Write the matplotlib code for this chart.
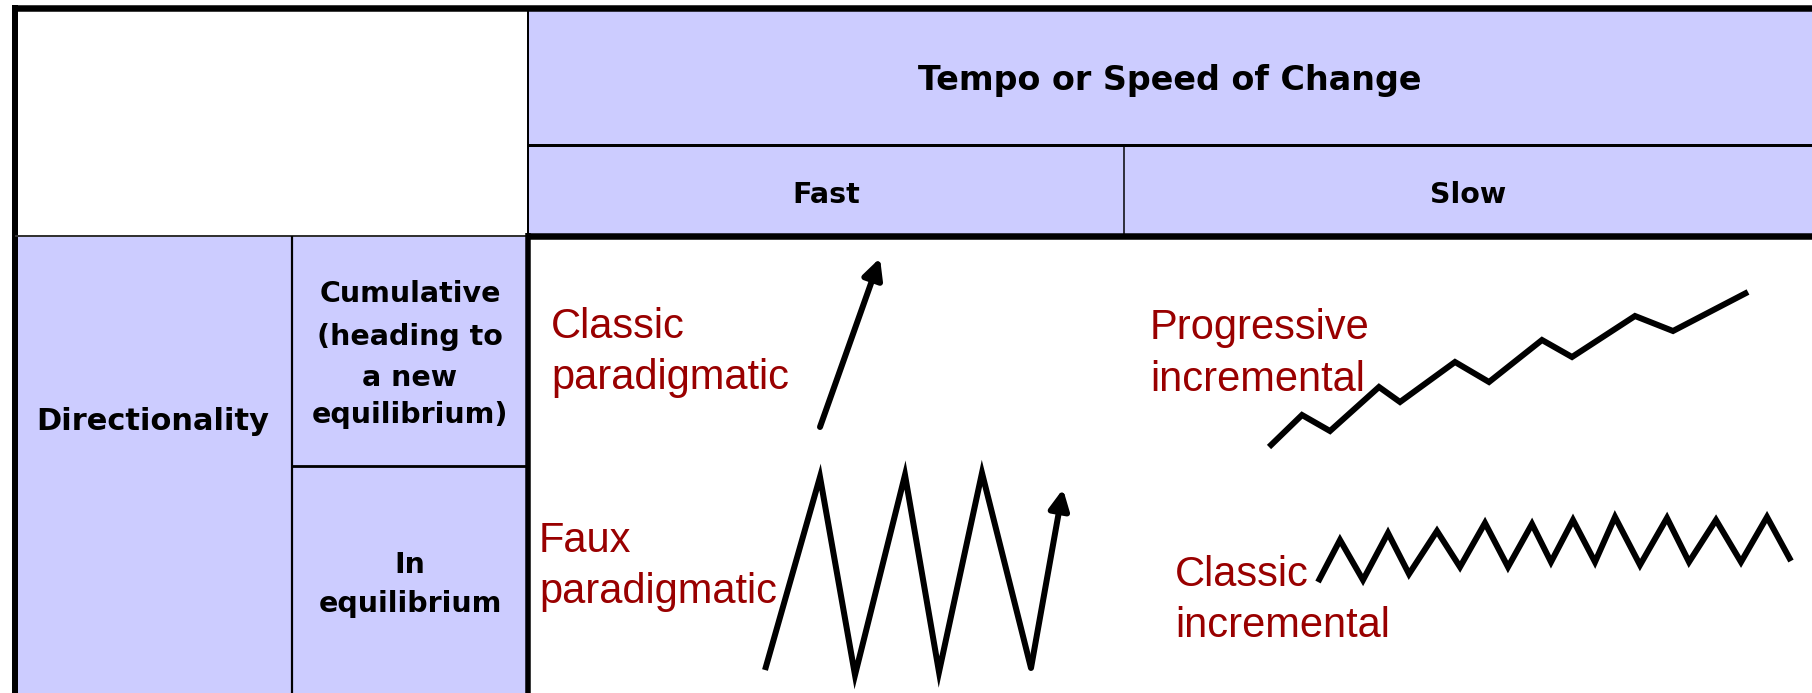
import matplotlib
matplotlib.use("Agg")
import matplotlib.pyplot as plt
from matplotlib.patches import Rectangle

# ---------------- data ----------------
header_title = "Tempo or Speed of Change"
tempo_labels = ["Fast", "Slow"]
row_group_label = "Directionality"
row_labels = [["Cumulative", "(heading to", "a new", "equilibrium)"],
              ["In", "equilibrium"]]
pattern_names = [["Classic", "paradigmatic"],
                 ["Faux", "paradigmatic"],
                 ["Progressive", "incremental"],
                 ["Classic", "incremental"]]

# Classic paradigmatic: a single steep arrow
classic_para_x = [820, 880]
classic_para_y = [427, 258]

# Faux paradigmatic: large oscillation ending in an arrow
faux_para_x = [765, 820, 855, 905, 939, 982, 1031, 1063]
faux_para_y = [670, 477, 675, 475, 672, 473, 668, 489]

# Progressive incremental: small steps trending upward
prog_inc_x = [1269, 1302, 1330, 1379, 1400, 1455, 1489, 1542, 1572, 1635, 1673, 1748]
prog_inc_y = [447, 415, 431, 387, 402, 362, 382, 340, 357, 316, 331, 292]

# Classic incremental: small oscillation around a level
classic_inc_x = [1318, 1340, 1363, 1388, 1409, 1437, 1460, 1485, 1508, 1532, 1551,
                 1573, 1595, 1615, 1640, 1667, 1689, 1716, 1741, 1767, 1791]
classic_inc_y = [582, 540, 580, 533, 574, 531, 567, 523, 567, 524, 562,
                 520, 562, 517, 565, 518, 562, 520, 562, 517, 561]

# ---------------- styling ----------------
W, H = 1812, 693
LAV = "#CCCCFF"
RED = "#990000"
PX = 0.72  # points per pixel at dpi 100

fig = plt.figure(figsize=(W / 100, H / 100), dpi=100)
ax = fig.add_axes([0, 0, 1, 1])
ax.set_xlim(0, W)
ax.set_ylim(H, 0)
ax.axis("off")

# cell fills
ax.add_patch(Rectangle((528, 8), W - 528 + 10, 236 - 8, facecolor=LAV, edgecolor="none"))
ax.add_patch(Rectangle((15, 236), 528 - 15, H - 236 + 10, facecolor=LAV, edgecolor="none"))

def hline(y, x0, x1, w, c="black"):
    ax.plot([x0, x1], [y, y], color=c, lw=w * PX, solid_capstyle="butt")

def vline(x, y0, y1, w, c="black"):
    ax.plot([x, x], [y0, y1], color=c, lw=w * PX, solid_capstyle="butt")

hline(8, 12, W + 5, 6.5)
vline(15, 5, H + 5, 6)
hline(236, 15, 528, 2, "#333333")
hline(236, 526, W + 5, 6.5)
vline(528, 8, 236, 2)
vline(528, 233, H + 5, 5.5)
hline(145, 528, W + 5, 3)
vline(1124, 145, 236, 1.5)
vline(292, 236, H + 5, 2.2)
hline(466, 292, 528, 2.8)

# header texts
bold = dict(family="DejaVu Sans", weight="bold", color="black", ha="center", va="baseline")
ax.text(1170, 90, header_title, fontsize=24, **bold)
ax.text(826, 203, tempo_labels[0], fontsize=20.5, **bold)
ax.text(1468, 203, tempo_labels[1], fontsize=20.5, **bold)
ax.text(153, 430, row_group_label, fontsize=22, **bold)
for txt, yb in zip(row_labels[0], [302, 345, 386, 423]):
    ax.text(410, yb, txt, fontsize=20.5, **bold)
for txt, yb in zip(row_labels[1], [573, 612]):
    ax.text(410, yb, txt, fontsize=20.5, **bold)

# pattern names
red = dict(family="Liberation Sans", color=RED, ha="left", va="baseline", fontsize=30)
name_pos = [(551, [338, 389]), (539, [552, 603]), (1150, [339, 391]), (1175, [586, 637])]
for lines, (x, ybs) in zip(pattern_names, name_pos):
    for txt, yb in zip(lines, ybs):
        ax.text(x, yb, txt, **red)

LW = 6 * PX
arrow_props = dict(arrowstyle="-|>", lw=LW, color="black", mutation_scale=30,
                   shrinkA=0, shrinkB=0)

# classic paradigmatic arrow
ax.annotate("", xy=(classic_para_x[1], classic_para_y[1]),
            xytext=(classic_para_x[0], classic_para_y[0]), arrowprops=arrow_props)

# faux paradigmatic
ax.plot(faux_para_x[:-1], faux_para_y[:-1], color="black", lw=LW,
        solid_joinstyle="miter", solid_capstyle="butt")
ax.annotate("", xy=(faux_para_x[-1], faux_para_y[-1]),
            xytext=(faux_para_x[-2], faux_para_y[-2]), arrowprops=arrow_props)

# incremental lines
ax.plot(prog_inc_x, prog_inc_y, color="black", lw=LW,
        solid_joinstyle="miter", solid_capstyle="butt")
ax.plot(classic_inc_x, classic_inc_y, color="black", lw=LW,
        solid_joinstyle="miter", solid_capstyle="butt")

fig.savefig("out.png", dpi=100)
